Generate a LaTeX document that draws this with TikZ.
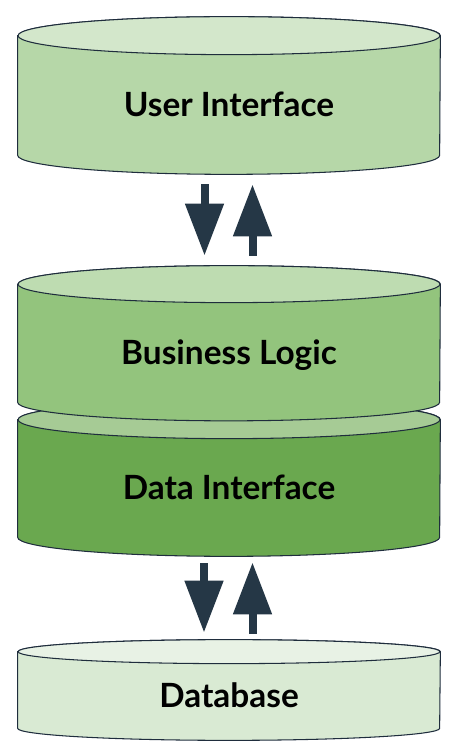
\documentclass[tikz,border=0pt]{standalone}
\usepackage{fontspec}
\setmainfont{Lato}
\usetikzlibrary{arrows.meta,positioning,calc,backgrounds}
\definecolor{uigreen}{HTML}{B6D7A8}
\definecolor{blgreen}{HTML}{93C47D}
\definecolor{digreen}{HTML}{6AA84F}
\definecolor{dbgreen}{HTML}{D9EAD3}
\definecolor{edgeink}{HTML}{1F2D3D}
\definecolor{arrowink}{HTML}{253746}
% can: body between the node's top edge and its bottom end, top face above
\newcommand{\drawcan}[3]{%
  \path[canbody,fill=#3] ([yshift=#2]#1.north west) -- (#1.south west)
    arc[start angle=180,end angle=360,x radius=4.22cm,y radius=#2]
    -- ([yshift=#2]#1.north east)
    arc[start angle=0,end angle=180,x radius=4.22cm,y radius=#2] -- cycle;
  \path[canbody,fill=#3!60!white] ([yshift=#2]#1.north) ellipse[x radius=4.22cm,y radius=#2];
}

\begin{document}
\begin{tikzpicture}[
  layer/.style={inner sep=0pt,minimum width=8.44cm,minimum height=#1,
                font=\fontsize{19}{23}\selectfont\bfseries,text height=13.6pt,text depth=0pt},
  canbody/.style={draw=edgeink,line width=0.6pt},
  blockarr/.style={-{Triangle[length=10.4mm,width=7.4mm]},line width=1.6mm,draw=arrowink},
]
\useasboundingbox (0,0) rectangle (9.18,15.12);

% ---- layers ----
\node[layer=2.0cm] (ui) at (4.58,13.02) {User Interface};
\node[layer=1.98cm] (bl) at (4.58,8.07) {Business Logic};
\node[layer=1.96cm] (di) at (4.58,5.36) {Data Interface};
\node[layer=1.28cm] (db) at (4.58,1.2) {Database};

\begin{scope}[on background layer]
  \drawcan{ui}{0.38cm}{uigreen}
  \drawcan{di}{0.38cm}{digreen}
  \drawcan{bl}{0.37cm}{blgreen}
  \drawcan{db}{0.24cm}{dbgreen}
\end{scope}

% ---- requests and replies ----
\draw[blockarr,shorten <=5.8mm,shorten >=9.4mm] ([xshift=-4.9mm]ui.south) -- ([xshift=-4.9mm]bl.north);
\draw[blockarr,shorten <=9.4mm,shorten >=5.8mm] ([xshift=4.7mm]bl.north) -- ([xshift=4.7mm]ui.south);
\draw[blockarr,shorten <=5.2mm,shorten >=6.2mm] ([xshift=-5mm]di.south) -- ([xshift=-5mm]db.north);
\draw[blockarr,shorten <=6mm,shorten >=5mm] ([xshift=4.7mm]db.north) -- ([xshift=4.7mm]di.south);
\end{tikzpicture}
\end{document}
